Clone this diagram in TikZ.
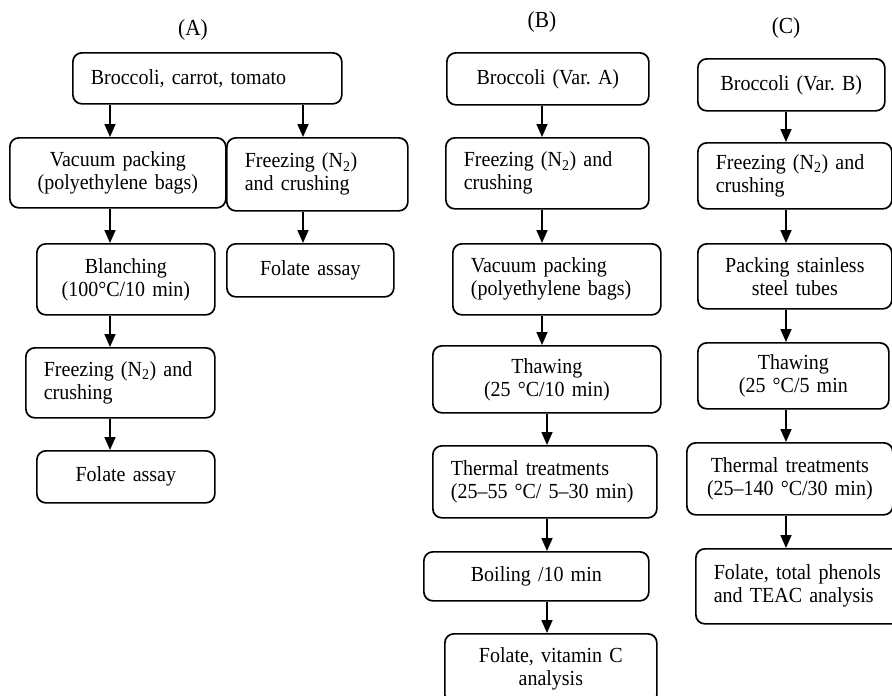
\documentclass[tikz,border=0pt]{standalone}
\usepackage{fontspec}
\setmainfont{Liberation Serif}[FakeStretch=0.93]
\usetikzlibrary{arrows.meta}

\begin{document}
\begin{tikzpicture}[x=1pt,y=-1pt,->,>={Triangle[length=13pt,width=11pt]},line width=1.7pt,
  box/.style={draw,rounded corners=9pt,anchor=north west,inner xsep=18pt,inner ysep=0pt,font=\fontsize{21.5}{23}\selectfont},
  cbox/.style={box,align=center},
  lbox/.style={box,align=left},
  sz/.style n args={3}{minimum width=#1pt,minimum height=#2pt,text width=#3pt},
  head/.style={font=\fontsize{23}{25}\selectfont}]

  \useasboundingbox (0,0) rectangle (892,696);

  % (A)
  \node[head] (hA) at (193,30) {(A)};
  \node[lbox,sz={269}{51}{233}] (A1) at (72,52) {Broccoli, carrot, tomato};
  \node[cbox,sz={216}{70}{180}] (A2) at (9,137) {Vacuum packing\\(polyethylene bags)};
  \node[lbox,sz={181}{73}{145}] (A3) at (226,137) {Freezing (N\textsubscript{2})\\and crushing};
  \node[cbox,sz={178}{71}{142}] (A4) at (36,243) {Blanching\\(100°C/10 min)};
  \node[cbox,sz={167}{53}{131}] (A5) at (226,243) {Folate assay};
  \node[lbox,sz={189}{70}{153}] (A6) at (25,347) {Freezing (N\textsubscript{2}) and\\crushing};
  \node[cbox,sz={178}{52}{142}] (A7) at (36,450) {Folate assay};

  % (B)
  \node[head] (hB) at (542,22) {(B)};
  \node[cbox,sz={202}{52}{166}] (B1) at (446,52) {Broccoli (Var.\ A)};
  \node[lbox,sz={203}{71}{167}] (B2) at (445,137) {Freezing (N\textsubscript{2}) and\\crushing};
  \node[lbox,sz={208}{71}{172}] (B3) at (452,243) {Vacuum packing\\(polyethylene bags)};
  \node[cbox,sz={228}{67}{192}] (B4) at (432,345) {Thawing\\(25 °C/10 min)};
  \node[lbox,sz={224}{72}{188}] (B5) at (432,445) {Thermal treatments\\(25--55 °C/ 5--30 min)};
  \node[cbox,sz={225}{49}{189}] (B6) at (423,551) {Boiling /10 min};
  \node[cbox,sz={212}{70}{176}] (B7) at (444,633) {Folate, vitamin C\\analysis};

  % (C)
  \node[head] (hC) at (786,28) {(C)};
  \node[cbox,sz={187}{52}{151}] (C1) at (697,58) {Broccoli (Var.\ B)};
  \node[lbox,sz={194}{66}{158}] (C2) at (697,142) {Freezing (N\textsubscript{2}) and\\crushing};
  \node[cbox,sz={194}{65}{158}] (C3) at (697,243) {Packing stainless\\steel tubes};
  \node[cbox,sz={191}{66}{155}] (C4) at (697,342) {Thawing\\(25 °C/5 min};
  \node[cbox,sz={206}{72}{170}] (C5) at (686,442) {Thermal treatments\\(25--140 °C/30 min)};
  \node[lbox,sz={212}{75}{176}] (C6) at (695,548) {Folate, total phenols\\and TEAC analysis};

  % arrow columns
  \coordinate (xa) at (110,0);
  \coordinate (xb) at (303,0);
  \coordinate (xc) at (542,0);
  \coordinate (xd) at (547,0);
  \coordinate (xe) at (786,0);

  \draw (A1.south -| xa) -- (A2.north -| xa);
  \draw (A2.south -| xa) -- (A4.north -| xa);
  \draw (A4.south -| xa) -- (A6.north -| xa);
  \draw (A6.south -| xa) -- (A7.north -| xa);
  \draw (A1.south -| xb) -- (A3.north -| xb);
  \draw (A3.south -| xb) -- (A5.north -| xb);

  \draw (B1.south -| xc) -- (B2.north -| xc);
  \draw (B2.south -| xc) -- (B3.north -| xc);
  \draw (B3.south -| xc) -- (B4.north -| xc);
  \draw (B4.south -| xd) -- (B5.north -| xd);
  \draw (B5.south -| xd) -- (B6.north -| xd);
  \draw (B6.south -| xd) -- (B7.north -| xd);

  \draw (C1.south -| xe) -- (C2.north -| xe);
  \draw (C2.south -| xe) -- (C3.north -| xe);
  \draw (C3.south -| xe) -- (C4.north -| xe);
  \draw (C4.south -| xe) -- (C5.north -| xe);
  \draw (C5.south -| xe) -- (C6.north -| xe);
\end{tikzpicture}
\end{document}
